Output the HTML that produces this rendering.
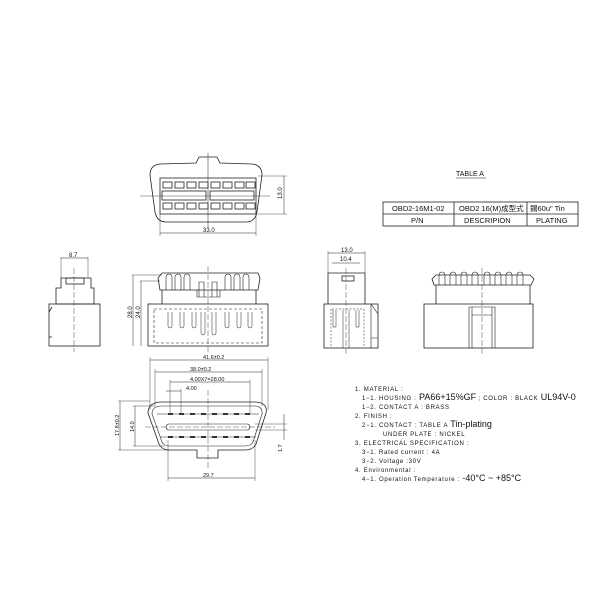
<!DOCTYPE html>
<html><head><meta charset="utf-8"><style>
html,body{margin:0;padding:0;background:#fff}
svg{display:block}
text{font-family:"Liberation Sans","Noto Sans CJK SC",sans-serif;fill:#111}
</style></head><body>
<svg width="600" height="600" viewBox="0 0 600 600" xmlns="http://www.w3.org/2000/svg" stroke="#222" stroke-width="0.8" fill="none">
<!-- TOP VIEW -->
<path d="M150 175 Q150 165 160 164 L196 163 L199 157 L217 157 L220 163 L252 164 Q262 165 262 175 L257 212 Q255 222 246 222 L166 222 Q157 222 155 212 Z"/>
<rect x="160" y="178" width="96" height="36"/>
<g fill="#fff">
<rect x="163" y="182" width="9" height="6"/><rect x="175" y="182" width="9" height="6"/><rect x="187" y="182" width="9" height="6"/><rect x="199" y="182" width="9" height="6"/><rect x="211" y="182" width="9" height="6"/><rect x="223" y="182" width="9" height="6"/><rect x="235" y="182" width="9" height="6"/><rect x="246" y="182" width="9" height="6"/>
<rect x="163" y="203" width="9" height="6"/><rect x="175" y="203" width="9" height="6"/><rect x="187" y="203" width="9" height="6"/><rect x="199" y="203" width="9" height="6"/><rect x="211" y="203" width="9" height="6"/><rect x="223" y="203" width="9" height="6"/><rect x="235" y="203" width="9" height="6"/><rect x="246" y="203" width="9" height="6"/>
</g>
<rect x="162" y="191" width="44" height="9"/><rect x="210" y="191" width="44" height="9"/>
<line x1="208" y1="153" x2="208" y2="228" stroke-width="0.5"/>
<line x1="140" y1="196" x2="270" y2="196" stroke-width="0.4"/>
<line x1="160" y1="214" x2="160" y2="236" stroke-width="0.4"/><line x1="256" y1="214" x2="256" y2="236" stroke-width="0.4"/>
<line x1="160" y1="233" x2="256" y2="233" stroke-width="0.5"/>
<text x="203" y="232" font-size="6" stroke="none">33.0</text>
<line x1="258" y1="176" x2="287" y2="176" stroke-width="0.4"/><line x1="258" y1="214" x2="287" y2="214" stroke-width="0.4"/>
<line x1="284" y1="176" x2="284" y2="214" stroke-width="0.5"/>
<text x="0" y="0" font-size="6" stroke="none" transform="translate(282,199) rotate(-90)">13.0</text>

<!-- TABLE -->
<text x="456" y="176" font-size="7" stroke="none">TABLE  A</text>
<line x1="456" y1="178" x2="486" y2="178" stroke-width="0.5"/>
<rect x="383" y="202" width="195" height="24"/>
<line x1="383" y1="214" x2="578" y2="214"/>
<line x1="454" y1="202" x2="454" y2="226"/><line x1="527" y1="202" x2="527" y2="226"/>
<text x="392" y="211" font-size="7.5" stroke="none">OBD2-16M1-02</text>
<text x="459" y="211" font-size="7.5" stroke="none">OBD2  16(M)成型式</text>
<text x="530" y="211" font-size="7.5" stroke="none">錫60u" Tin</text>
<text x="411" y="223" font-size="7.5" stroke="none">P/N</text>
<text x="464" y="223" font-size="7.5" stroke="none">DESCRIPION</text>
<text x="536" y="223" font-size="7.5" stroke="none">PLATING</text>

<!-- SIDE VIEW 1 -->
<path d="M61 278 L91 278 L91 288 L94 288 L94 304 L56 304 L56 288 L61 288 Z"/>
<rect x="49" y="304" width="51" height="42"/>
<rect x="66" y="278" width="18" height="6"/>
<line x1="49" y1="312" x2="52" y2="307"/><line x1="49" y1="337" x2="52" y2="337"/>
<line x1="74" y1="268" x2="74" y2="352" stroke-width="0.4" stroke-dasharray="6 2"/>
<line x1="61" y1="257" x2="61" y2="278" stroke-width="0.4"/><line x1="88" y1="257" x2="88" y2="278" stroke-width="0.4"/>
<line x1="61" y1="258" x2="88" y2="258" stroke-width="0.5"/>
<text x="69" y="257" font-size="6" stroke="none">8.7</text>

<!-- FRONT VIEW 2 -->
<rect x="148" y="304" width="120" height="42"/>
<rect x="154" y="309" width="108" height="34" stroke-dasharray="3 2" stroke-width="0.6"/>
<line x1="162" y1="290" x2="162" y2="304"/><line x1="256" y1="290" x2="256" y2="304"/>
<path d="M160 290 L158 278 L162 273 L258 273 L260 278 L258 290 Z"/>
<g stroke-width="0.6">
<path d="M166 290 V277 a3 3 0 0 1 6 0 V290 M175 290 V277 a3 3 0 0 1 6 0 V290 M184 290 V277 a3 3 0 0 1 6 0 V290 M225 290 V277 a3 3 0 0 1 6 0 V290 M234 290 V277 a3 3 0 0 1 6 0 V290 M243 290 V277 a3 3 0 0 1 6 0 V290"/>
<path d="M197 290 V297 H220 V290 M199 297 V282 H204 V297 M212 297 V282 H217 V297"/>
<path d="M168 312 V326 a2 2 0 0 0 4 0 V312 M180 312 V326 a2 2 0 0 0 4 0 V312 M192 312 V326 a2 2 0 0 0 4 0 V312 M201 312 V333 a2 2 0 0 0 4 0 V312 M212 312 V333 a2 2 0 0 0 4 0 V312 M225 312 V326 a2 2 0 0 0 4 0 V312 M237 312 V326 a2 2 0 0 0 4 0 V312 M248 312 V326 a2 2 0 0 0 4 0 V312" stroke-width="0.5"/>
</g>
<line x1="208" y1="266" x2="208" y2="352" stroke-width="0.4" stroke-dasharray="6 2"/>
<line x1="132" y1="275" x2="162" y2="275" stroke-width="0.4"/><line x1="140" y1="281" x2="160" y2="281" stroke-width="0.4"/>
<line x1="133" y1="275" x2="133" y2="346" stroke-width="0.5"/><line x1="141" y1="281" x2="141" y2="346" stroke-width="0.5"/>
<text font-size="6" stroke="none" transform="translate(132,318) rotate(-90)">28.0</text>
<text font-size="6" stroke="none" transform="translate(140,318) rotate(-90)">24.0</text>

<!-- SIDE VIEW 3 -->
<path d="M328 304 V273 H365 V304"/>
<rect x="342" y="276" width="12" height="5"/>
<rect x="324" y="304" width="54" height="44"/>
<path d="M371 304 L378 314 M371 304 V348 M371 338 H378" stroke-width="0.6"/>
<g stroke-width="0.5">
<path d="M331 309 V348 M364 309 V348 M332 309 H364" stroke-dasharray="2 1.5"/>
<path d="M333 310 V327 h3 V310 M356 310 V327 h3 V310 M343 310 V348 M349 310 V348"/>
</g>
<line x1="346" y1="268" x2="346" y2="354" stroke-width="0.4" stroke-dasharray="6 2"/>
<line x1="328" y1="251" x2="328" y2="273" stroke-width="0.4"/><line x1="365" y1="251" x2="365" y2="273" stroke-width="0.4"/>
<line x1="328" y1="253" x2="365" y2="253" stroke-width="0.5"/><text x="341" y="252" font-size="6" stroke="none">13.0</text>
<line x1="332" y1="263" x2="360" y2="263" stroke-width="0.5"/><text x="340" y="261" font-size="6" stroke="none">10.4</text>

<!-- SIDE VIEW 4 -->
<rect x="424" y="304" width="109" height="44"/>
<line x1="436" y1="285" x2="436" y2="304"/><line x1="530" y1="285" x2="530" y2="304"/>
<path d="M434 285 L432 279 L436 275 L530 275 L534 279 L531 285 Z"/>
<g stroke-width="0.6"><path d="M439 285 V275 a3 3 0 0 1 6 0 V285 M450 285 V275 a3 3 0 0 1 6 0 V285 M461 285 V275 a3 3 0 0 1 6 0 V285 M472 285 V275 a3 3 0 0 1 6 0 V285 M484 285 V275 a3 3 0 0 1 6 0 V285 M495 285 V275 a3 3 0 0 1 6 0 V285 M506 285 V275 a3 3 0 0 1 6 0 V285 M517 285 V275 a3 3 0 0 1 6 0 V285"/></g>
<path d="M469 348 V307 H495 V348 M472 348 V315 H492 V348 M469 307 h3 v8 M495 307 h-3 v8" stroke-width="0.6"/>
<line x1="482" y1="268" x2="482" y2="354" stroke-width="0.4" stroke-dasharray="6 2"/>

<!-- BOTTOM FRONT VIEW -->
<path d="M148 413 Q148 403 160 402 L256 402 Q268 403 266 413 L256 444 Q253 450 245 450 L218 450 L218 458 L197 458 L197 450 L170 450 Q162 450 159 444 Z"/>
<path d="M152 414 Q152 406 162 406 L254 406 Q263 406 262 414 L253 442 Q251 446 245 446 L170 446 Q164 446 162 442 Z" stroke-width="0.6"/>
<line x1="157" y1="414" x2="259" y2="414" stroke-width="0.6"/>
<line x1="160" y1="437" x2="256" y2="437" stroke-width="0.6"/>
<rect x="166" y="424" width="84" height="6" rx="3" stroke-width="0.6"/>
<g fill="#333" stroke="none">
<rect x="168" y="413" width="5" height="2"/><rect x="179" y="413" width="5" height="2"/><rect x="190" y="413" width="5" height="2"/><rect x="201" y="413" width="5" height="2"/><rect x="212" y="413" width="5" height="2"/><rect x="223" y="413" width="5" height="2"/><rect x="234" y="413" width="5" height="2"/><rect x="245" y="413" width="5" height="2"/>
<rect x="168" y="436" width="5" height="2"/><rect x="179" y="436" width="5" height="2"/><rect x="190" y="436" width="5" height="2"/><rect x="201" y="436" width="5" height="2"/><rect x="212" y="436" width="5" height="2"/><rect x="223" y="436" width="5" height="2"/><rect x="234" y="436" width="5" height="2"/><rect x="245" y="436" width="5" height="2"/>
</g>
<line x1="208" y1="390" x2="208" y2="470" stroke-width="0.4" stroke-dasharray="6 2"/>
<line x1="145" y1="427" x2="275" y2="427" stroke-width="0.4" stroke-dasharray="6 2"/>
<g stroke-width="0.4">
<line x1="150" y1="357" x2="150" y2="410"/><line x1="268" y1="357" x2="268" y2="410"/>
<line x1="155" y1="369" x2="155" y2="406"/><line x1="262" y1="369" x2="262" y2="406"/>
<line x1="170" y1="380" x2="170" y2="413"/><line x1="250" y1="380" x2="250" y2="413"/>
<line x1="181" y1="389" x2="181" y2="413"/>
<line x1="168" y1="440" x2="168" y2="481"/><line x1="255" y1="440" x2="255" y2="481"/>
<line x1="118" y1="401" x2="150" y2="401"/><line x1="118" y1="450" x2="170" y2="450"/>
<line x1="133" y1="406" x2="155" y2="406"/><line x1="133" y1="446" x2="165" y2="446"/>
<line x1="255" y1="424" x2="287" y2="424"/><line x1="255" y1="430" x2="287" y2="430"/>
</g>
<g stroke-width="0.5">
<line x1="150" y1="360" x2="268" y2="360"/><line x1="155" y1="372" x2="262" y2="372"/>
<line x1="170" y1="382" x2="250" y2="382"/><line x1="166" y1="391" x2="181" y2="391"/>
<line x1="168" y1="478" x2="255" y2="478"/>
<line x1="120" y1="401" x2="120" y2="450"/><line x1="135" y1="406" x2="135" y2="446"/>
<line x1="284" y1="414" x2="284" y2="440"/>
</g>
<text x="203" y="359" font-size="5.5" stroke="none">41.6±0.2</text>
<text x="190" y="371" font-size="5.5" stroke="none">38.0±0.2</text>
<text x="190" y="381" font-size="5.5" stroke="none">4.00X7=28.00</text>
<text x="186" y="390" font-size="5.5" stroke="none">4.00</text>
<text x="203" y="477" font-size="5.5" stroke="none">29.7</text>
<text font-size="5.5" stroke="none" transform="translate(119,436) rotate(-90)">17.8±0.2</text>
<text font-size="5.5" stroke="none" transform="translate(134,432) rotate(-90)">14.0</text>
<text font-size="5.5" stroke="none" transform="translate(282,452) rotate(-90)">1.7</text>

<!-- NOTES -->
<g stroke="none" font-size="6" letter-spacing="0.7">
<text x="355" y="391">1. MATERIAL :</text>
<text x="362" y="400">1−1. HOUSING : <tspan font-size="9" letter-spacing="0">PA66+15%GF</tspan>  ; COLOR : BLACK  <tspan font-size="9" letter-spacing="0">UL94V-0</tspan></text>
<text x="362" y="409">1−2. CONTACT A : BRASS</text>
<text x="355" y="418">2. FINISH :</text>
<text x="362" y="427">2−1. CONTACT : TABLE A  <tspan font-size="9" letter-spacing="0">Tin-plating</tspan></text>
<text x="383" y="436">UNDER PLATE : NICKEL</text>
<text x="355" y="445">3. ELECTRICAL SPECIFICATION :</text>
<text x="362" y="454">3−1. Rated current : 4A</text>
<text x="362" y="463">3−2. Voltage :30V</text>
<text x="355" y="472">4. Environmental :</text>
<text x="362" y="481">4−1. Operation Temperature : <tspan font-size="9" letter-spacing="0">-40°C ~ +85°C</tspan></text>
</g>
</svg>
</body></html>
